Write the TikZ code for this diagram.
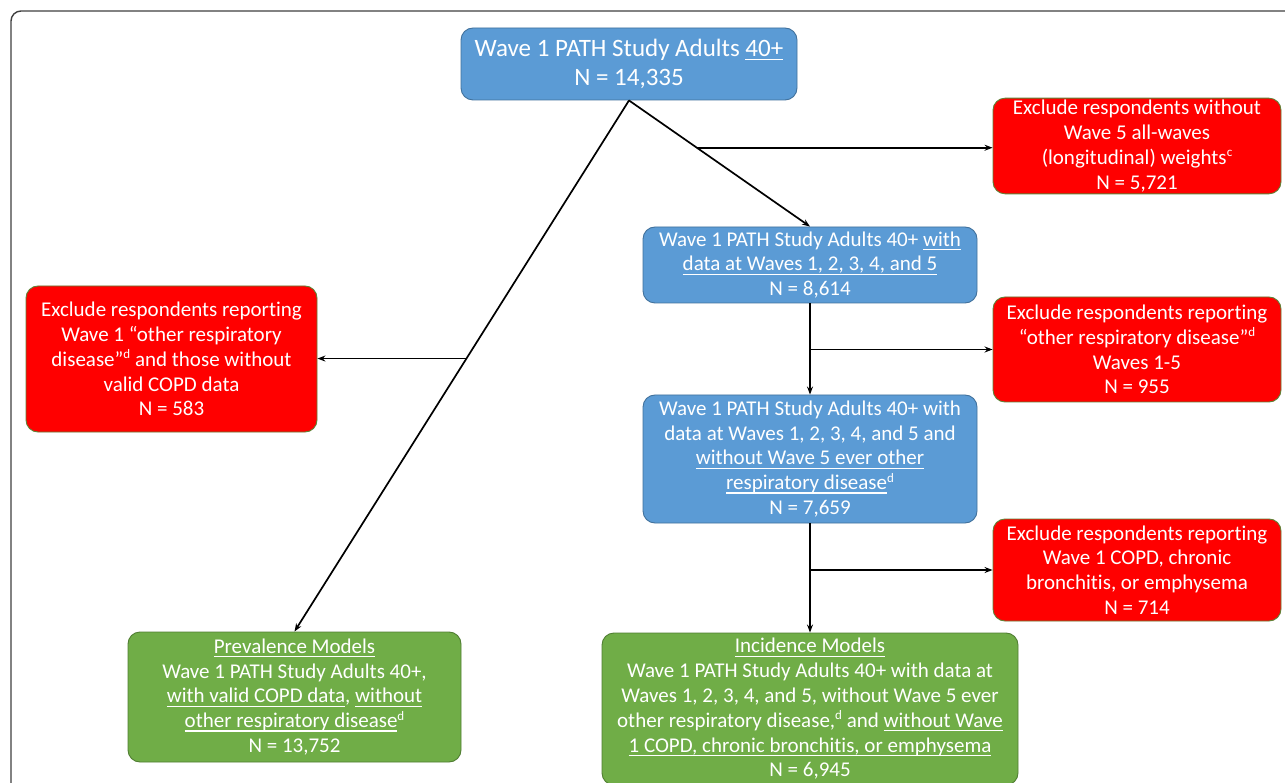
\documentclass[tikz,border=0pt]{standalone}
\usepackage{fontspec}
\setmainfont{Carlito}[Ligatures=NoCommon]
\usetikzlibrary{arrows.meta,calc}
\newcommand\myul[1]{\setbox0\hbox{#1}\rlap{\rule[-3.8pt]{\wd0}{1.2pt}}\box0}
\newcommand\mysup[1]{\raisebox{7.5pt}{\fontsize{13}{13}\selectfont #1}}
\definecolor{boxblue}{HTML}{5B9BD5}
\definecolor{boxblueedge}{HTML}{41719C}
\definecolor{boxred}{HTML}{FF0000}
\definecolor{boxrededge}{HTML}{5E8236}
\definecolor{boxgreen}{HTML}{70AD47}
\definecolor{boxgreenedge}{HTML}{507E32}
\definecolor{frameline}{HTML}{404040}
\tikzset{
  basebox/.style={rounded corners=12pt, align=center, text=white, inner sep=2pt, line width=0.9pt,
    font=\fontsize{21}{24.8}\selectfont},
  bluebox/.style={basebox, fill=boxblue, draw=boxblueedge},
  redbox/.style={basebox, fill=boxred, draw=boxrededge},
  greenbox/.style={basebox, fill=boxgreen, draw=boxgreenedge},
  conn/.style={line width=1.7pt, draw=black},
  arr/.style={conn, -{Stealth[length=8pt,width=6pt]}}
}
\begin{document}
\begin{tikzpicture}[x=1pt,y=-1pt]
\useasboundingbox (0,0) rectangle (1285,783);
\begin{scope}
\clip (0,0) rectangle (1285,783);
\fill[white] (0,0) rectangle (1285,783);
\draw[frameline, line width=1.4pt, rounded corners=10pt] (11,11) rectangle (1300,800);

\node[bluebox, minimum width=336pt, minimum height=72pt, font=\fontsize{25}{29}\selectfont] (top) at (629,64)
  {Wave 1 PATH Study Adults \myul{40+}\\N = 14,335};
\node[redbox, minimum width=288pt, minimum height=94pt] (ex1) at (1137,146)
  {Exclude respondents without\\Wave 5 all-waves\\(longitudinal) weights\mysup{c}\\N = 5,721};
\node[bluebox, minimum width=334pt, minimum height=76pt] (b2) at (810,265)
  {Wave 1 PATH Study Adults 40+ \myul{with}\\\myul{data at Waves 1, 2, 3, 4, and 5}\\N = 8,614};
\node[redbox, minimum width=288pt, minimum height=105pt] (ex2) at (1137,349.5)
  {Exclude respondents reporting\\“other respiratory disease”\mysup{d}\\Waves 1-5\\N = 955};
\node[redbox, minimum width=291pt, minimum height=146pt] (exL) at (171.5,359)
  {Exclude respondents reporting\\Wave 1 “other respiratory\\disease”\mysup{d} and those without\\valid COPD data\\N = 583};
\node[bluebox, minimum width=334pt, minimum height=128pt] (b3) at (810,459)
  {Wave 1 PATH Study Adults 40+ with\\data at Waves 1, 2, 3, 4, and 5 and\\\myul{without Wave 5 ever other}\\\myul{respiratory disease}\mysup{d}\\N = 7,659};
\node[redbox, minimum width=288pt, minimum height=102pt] (ex3) at (1137,570)
  {Exclude respondents reporting\\Wave 1 COPD, chronic\\bronchitis, or emphysema\\N = 714};
\node[greenbox, minimum width=333pt, minimum height=130pt] (prev) at (294.5,697)
  {\myul{Prevalence Models}\\Wave 1 PATH Study Adults 40+,\\\myul{with valid COPD data}, \myul{without}\\\myul{other respiratory disease}\mysup{d}\\N = 13,752};
\node[greenbox, minimum width=416pt, minimum height=152pt] (inc) at (810,709)
  {\myul{Incidence Models}\\Wave 1 PATH Study Adults 40+ with data at\\Waves 1, 2, 3, 4, and 5, without Wave 5 ever\\other respiratory disease,\mysup{d} and \myul{without Wave}\\\myul{1 COPD, chronic bronchitis, or emphysema}\\N = 6,945};

\coordinate (c1) at ($(top.south)!0.375!(b2.north)$);
\coordinate (c2) at ($(top.south)!0.486!(prev.north)$);
\coordinate (c3) at (b2.south |- ex2.west);
\coordinate (c4) at (b3.south |- ex3.west);

\draw[arr] (top.south) -- (prev.north);
\draw[arr] (top.south) -- (b2.north);
\draw[arr] (c1) -- (c1 -| ex1.west);
\draw[arr] (c2) -- (c2 -| exL.east);
\draw[arr] (b2.south) -- (b3.north);
\draw[arr] (c3) -- (ex2.west);
\draw[arr] (b3.south) -- (inc.north);
\draw[arr] (c4) -- (ex3.west);
\end{scope}
\end{tikzpicture}
\end{document}
